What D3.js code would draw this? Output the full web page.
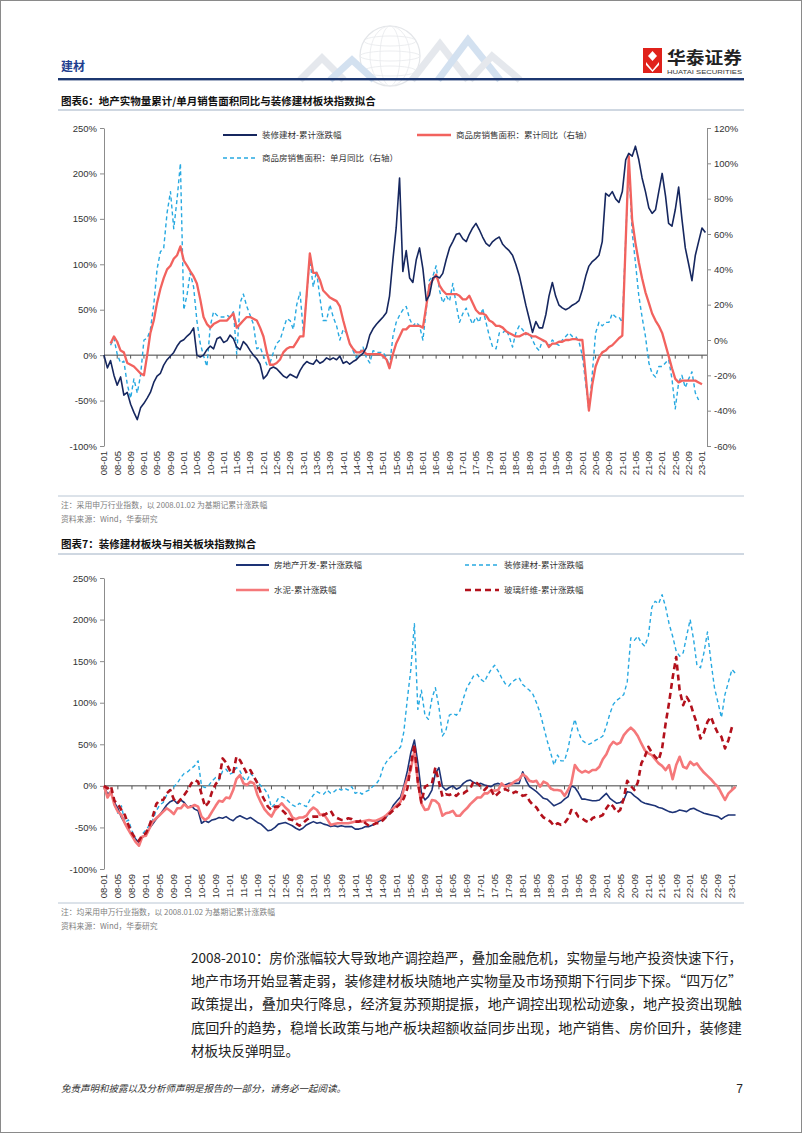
<!DOCTYPE html>
<html><head><meta charset="utf-8">
<script src="https://cdn.jsdelivr.net/npm/d3@7"></script>
<style>
body{margin:0;background:#fff;}
svg{display:block;}
</style></head><body>
<svg id="page" width="802" height="1133"></svg>
<script>
// ---------------- DATA (monthly points, index 0 = 2008-01) ----------------
const xTickLabels = ["08-01","08-05","08-09","09-01","09-05","09-09","10-01","10-05","10-09","11-01","11-05","11-09","12-01","12-05","12-09","13-01","13-05","13-09","14-01","14-05","14-09","15-01","15-05","15-09","16-01","16-05","16-09","17-01","17-05","17-09","18-01","18-05","18-09","19-01","19-05","19-09","20-01","20-05","20-09","21-01","21-05","21-09","22-01","22-05","22-09","23-01"];
const leftTicks = [-100,-50,0,50,100,150,200,250];
const rightTicks = [-60,-40,-20,0,20,40,60,80,100,120];

// 装修建材-累计涨跌幅 (%)
const decorCum = [
 0,-14,-6,-22,-33,-24,-44,-41,-54,-63,-71,-58,
 -53,-47,-41,-30,-23,-20,-11,-5,-1,3,10,15,
 17,21,24,30,0,-2,0,6,10,7,18,20,
 14,16,22,18,9,6,15,11,5,0,-4,-10,
 -26,-22,-15,-13,-15,-19,-23,-25,-21,-23,-25,-17,
 -11,-7,-9,-10,-5,-9,-7,-3,-5,-3,-5,-1,
 -9,-7,-10,-7,-5,-1,2,8,22,29,34,38,
 42,47,65,105,140,195,92,115,85,80,105,118,
 95,60,66,85,87,85,90,105,118,125,133,134,
 128,125,133,140,145,138,130,123,120,125,128,130,
 122,118,115,110,100,88,72,55,40,25,37,30,
 30,45,65,80,65,55,52,50,52,55,57,60,
 72,87,98,103,106,110,125,178,175,180,172,168,
 180,215,222,219,230,215,195,180,162,156,160,180,
 200,175,145,142,160,185,150,118,100,82,110,125,
 140,135];

// 商品房销售面积：累计同比 (%)
const salesCumYoY = [
 null,null,-2,2,-1,-6,-7,-13,-14,-15,-17,-19,
 -20,-8,4,11,21,29,35,40,42,46,48,53,
 45,42,39,36,32,23,13,9,7,9,10,11,
 11,11,13,15,7,9,11,13,13,12,11,7,
 2,-7,-14,-14,-13,-11,-7,-5,-4,-4,-1,2,
 2,null,49,38,38,34,28,26,24,23,22,19,
 11,4,-2,-5,-7,-7,-6,-8,-8,-8,-8,-8,
 -9,-11,-16,-8,-2,2,6,6,8,8,8,8,
 7,null,31,34,37,31,28,26,26,26,26,25,
 23,23,25,21,17,15,15,14,11,10,8,8,
 7,5,4,3,2,2,3,4,3,2,2,1,
 0,-1,-4,-2,-2,-1,-1,0,0,0.5,0.5,0,
 0,null,-40,-25,-15,-10,-7,-6,-4,-3,-1,1,
 2.5,null,104,68,55,44,35,27,21,15,11,8,
 4,null,-9,-16,-22,-24,-23,-23,-23,-23,-23,-24,
 -25,null];

// 商品房销售面积：单月同比 (%)
const salesMonthYoY = [
 null,null,-3,1,-8,-13,-12,-25,-33,-22,-30,-20,
 0,1,6,20,40,50,52,72,84,63,80,100,
 17,26,38,30,11,-2,-9,-15,8,16,14,13,
 13,14,13,16,-8,21,26,19,14,9,-5,-4,
 -9,-14,-13,-7,-2,0,6,12,11,6,20,27,
 4,null,46,30,39,24,11,11,20,13,8,0,
 6,4,-2,-6,-10,-7,-4,-10,-13,-6,-7,-7,
 -7,-10,-15,2,10,14,17,19,12,8,10,8,
 0,null,34,36,42,28,21,25,22,32,20,10,
 15,18,13,9,13,10,18,10,2,-4,-5,4,
 4,6,2,-4,4,8,6,3,4,0,-4,-6,
 0,-2,-3,0,-2,-3,0,2,4,2,2,-1,
 -9,null,-40,-19,4,10,8,10,10,15,13,13,
 10,null,100,61,44,25,13,2,-13,-19,-21,-15,
 -15,null,-11,-22,-39,-24,-20,-27,-22,-18,-30,-34,
 null,null];

// 房地产开发-累计涨跌幅 (%)
const realEstateCum = [
 0,-10,-7,-20,-27,-38,-45,-52,-59,-64,-68,-62,
 -58,-51,-46,-40,-35,-29,-23,-19,-17,-21,-17,-20,
 -26,-24,-28,-30,-45,-42,-44,-41,-40,-38,-39,-37,
 -40,-42,-38,-36,-38,-40,-38,-41,-44,-46,-50,-54,
 -53,-50,-46,-45,-44,-46,-48,-51,-53,-51,-47,-45,
 -43,-45,-44,-46,-47,-49,-48,-49,-48,-49,-49,-49,
 -52,-52,-51,-49,-49,-47,-45,-42,-41,-37,-31,-23,
 -18,-13,0,18,40,55,28,-8,-17,-13,-5,15,
 22,-1,-5,-2,0,-4,-2,3,6,7,4,2,
 3,1,0,-1,2,3,1,1,3,3,3,3,
 17,6,-1,-4,-7,-11,-15,-16,-20,-24,-22,-20,
 -16,-13,0,-2,-8,-16,-16,-17,-18,-18,-17,-13,
 -9,-15,-18,-21,-20,-17,-7,-8,-12,-15,-19,-21,
 -22,-23,-24,-26,-27,-29,-31,-32,-31,-29,-30,-31,
 -28,-27,-29,-31,-33,-34,-35,-36,-37,-40,-37,-35,
 -35,-35];

// 水泥-累计涨跌幅 (%)
const cementCum = [
 0,-14,-7,-23,-31,-35,-45,-53,-60,-67,-72,-61,
 -60,-51,-43,-39,-35,-31,-27,-30,-34,-27,-27,-22,
 -26,-25,-23,-25,-37,-41,-38,-31,-24,-18,-19,-14,
 -15,-5,8,13,3,1,5,3,-11,-20,-28,-33,
 -37,-29,-25,-21,-26,-30,-38,-40,-38,-38,-36,-30,
 -26,-29,-35,-34,-40,-47,-46,-45,-45,-45,-45,-44,
 -43,-43,-43,-42,-41,-42,-42,-40,-38,-35,-31,-27,
 -23,-19,-4,9,20,42,5,-21,-29,-28,-17,-18,
 -22,-36,-33,-32,-30,-36,-36,-31,-27,-22,-18,-14,
 -14,-9,-9,-5,-6,-5,3,-1,0,3,6,8,
 14,11,6,5,6,-1,5,3,-3,-5,-5,-6,
 -12,-5,3,25,19,16,18,16,19,19,23,32,
 38,48,53,50,52,61,66,70,66,60,51,43,
 39,37,32,27,24,19,25,8,25,35,23,21,
 29,25,27,21,16,12,8,3,-1,-9,-17,-9,
 -5,-1];

// 玻璃纤维-累计涨跌幅 (%)
const glassFiberCum = [
 0,-3,0,-18,-22,-29,-35,-47,-57,-63,-66,-59,
 -57,-47,-37,-22,-17,-17,-9,-5,-16,-21,-16,-11,
 -5,3,7,5,-10,-25,-20,-7,2,7,33,28,
 19,15,35,31,23,15,19,11,3,-9,-17,-25,
 -29,-25,-25,-29,-33,-40,-41,-45,-48,-45,-41,-38,
 -37,-37,-37,-35,-33,-30,-37,-39,-41,-41,-39,-40,
 -43,-43,-41,-45,-48,-47,-45,-45,-41,-37,-33,-29,
 -25,-21,-15,-3,25,50,5,-20,-1,1,3,22,
 5,-13,-10,-11,-9,-12,-8,-9,-6,-3,6,3,
 -1,-5,-1,-5,-13,-9,-5,-4,-6,-9,-7,-9,
 -12,-11,-18,-23,-26,-33,-38,-40,-43,-48,-45,-47,
 -45,-39,-29,-30,-37,-39,-42,-44,-39,-37,-37,-35,
 -27,-21,-25,-32,-29,-15,6,0,-5,4,27,35,
 47,40,35,31,45,75,100,130,155,115,97,107,
 100,86,75,57,64,77,83,72,63,59,45,55,
 71,72];

// ---------------- DRAWING ----------------
const CJK = "'Noto Sans CJK SC','Noto Sans',sans-serif";
const LAT = "'Liberation Sans',Arial,sans-serif";
const svg = d3.select("#page");

const toPts = arr => arr.map((v,i)=>({d:new Date(2008,i,1), v})).filter(p=>p.v!==null);
const labelDate = s => new Date(2000+ +s.slice(0,2), +s.slice(3)-1, 1);

// page frame
svg.append("rect").attr("x",0.5).attr("y",0.5).attr("width",801).attr("height",1132)
  .attr("fill","none").attr("stroke","#8a8a8a");

// ---- header watermark (globe + chevrons) ----
const wm = svg.append("g").attr("opacity",0.45);
wm.append("circle").attr("cx",390).attr("cy",56).attr("r",30).attr("fill","none").attr("stroke","#c3c8cf").attr("stroke-width",1.2);
[10,20].forEach(rx=>wm.append("ellipse").attr("cx",390).attr("cy",56).attr("rx",rx).attr("ry",30).attr("fill","none").attr("stroke","#cdd1d7").attr("stroke-width",0.8));
[-15,0,15].forEach(dy=>wm.append("ellipse").attr("cx",390).attr("cy",56+dy).attr("rx",Math.sqrt(900-dy*dy)).attr("ry",5).attr("fill","none").attr("stroke","#cdd1d7").attr("stroke-width",0.8));
const chev = [[[300,80],[322,58],[344,80]],[[330,80],[352,60],[374,80]],[[412,80],[440,44],[468,80]],[[438,80],[468,40],[500,80]],[[470,80],[492,56],[520,80]]];
chev.forEach((c,i)=>wm.append("polyline").attr("points",c.map(p=>p.join(",")).join(" "))
  .attr("fill","none").attr("stroke",i%2?"#9fbde0":"#c7ced8").attr("stroke-width",7).attr("stroke-linejoin","miter"));

// header text & line
svg.append("text").attr("x",61).attr("y",71).text("建材")
  .attr("font-family",CJK).attr("font-weight","bold").attr("font-size",12).attr("fill","#1f3f8f");
svg.append("rect").attr("x",58).attr("y",78).attr("width",686).attr("height",2.4).attr("fill","#1c3770");

// logo
const lg = svg.append("g");
lg.append("rect").attr("x",643).attr("y",48).attr("width",19).attr("height",25).attr("fill","#e0211b");
lg.append("path").attr("d","M652.5,51 L657,56 L652.5,61 L648,56 Z").attr("fill","#fff");
lg.append("path").attr("d","M646,62 L652.5,70 L659,62 L659,65 L652.5,72 L646,65 Z").attr("fill","#fff");
lg.append("text").attr("x",667).attr("y",63.5).text("华泰证券")
  .attr("font-family",CJK).attr("font-weight","bold").attr("font-size",16.5).attr("fill","#222")
  .attr("textLength",75).attr("lengthAdjust","spacingAndGlyphs");
lg.append("text").attr("x",667).attr("y",73.5).text("HUATAI SECURITIES")
  .attr("font-family",LAT).attr("font-size",6).attr("fill","#333")
  .attr("textLength",75).attr("lengthAdjust","spacingAndGlyphs");

// ---- helpers ----
function titleBlock(y, txt, lineY){
  svg.append("text").attr("x",61).attr("y",y).text(txt)
    .attr("font-family",CJK).attr("font-weight","bold").attr("font-size",10.5).attr("fill","#111");
  svg.append("line").attr("x1",58).attr("x2",744).attr("y1",lineY).attr("y2",lineY)
    .attr("stroke","#9fb0c4").attr("stroke-width",1);
}
function notes(lineY, t1, t2){
  svg.append("line").attr("x1",58).attr("x2",744).attr("y1",lineY).attr("y2",lineY)
    .attr("stroke","#b9c6d4").attr("stroke-width",1);
  svg.append("text").attr("x",61).attr("y",lineY+12).text(t1)
    .attr("font-family",CJK).attr("font-size",7.8).attr("fill","#808080");
  svg.append("text").attr("x",61).attr("y",lineY+26).text(t2)
    .attr("font-family",CJK).attr("font-size",7.8).attr("fill","#808080");
}
function styleAxis(g){
  g.select(".domain").attr("stroke","#8c8c8c");
  g.selectAll(".tick line").attr("stroke","#8c8c8c");
  g.selectAll(".tick text").attr("font-family",LAT).attr("font-size",9.5).attr("fill","#333");
}
function xLabels(x, zeroY, labY){
  xTickLabels.forEach(s=>{
    const xx = x(labelDate(s));
    svg.append("line").attr("x1",xx).attr("x2",xx).attr("y1",zeroY).attr("y2",zeroY+3.5).attr("stroke","#555");
    svg.append("text").attr("transform",`translate(${xx},${labY}) rotate(-90)`)
      .attr("text-anchor","end").attr("dy","0.35em").text(s)
      .attr("font-family",LAT).attr("font-size",9.5).attr("fill","#333");
  });
}
function legendItem(x1,x2,y,color,width,dash,label){
  svg.append("line").attr("x1",x1).attr("x2",x2).attr("y1",y).attr("y2",y)
    .attr("stroke",color).attr("stroke-width",width).attr("stroke-dasharray",dash||null);
  svg.append("text").attr("x",x2+5).attr("y",y).attr("dy","0.35em").text(label)
    .attr("font-family",CJK).attr("font-size",8.5).attr("fill","#333");
}
function drawLine(arr,x,y,color,width,dash){
  svg.append("path").datum(toPts(arr))
    .attr("d",d3.line().x(p=>x(p.d)).y(p=>y(p.v)))
    .attr("fill","none").attr("stroke",color).attr("stroke-width",width)
    .attr("stroke-linejoin","round").attr("stroke-dasharray",dash||null);
}

const NAVY="#16275f", RED="#f2625e", LBLUE="#27a9e1", CEMENT="#f5787a", GF="#b3111c", RE="#1d3376";
const d0 = new Date(2008,0,1), d1 = new Date(2023,0,1);

// ---------------- CHART 6 ----------------
titleBlock(104.5,"图表6：地产实物量累计/单月销售面积同比与装修建材板块指数拟合",110);
const x1 = d3.scaleTime().domain([d0,d1]).range([104,702]);
const yL = d3.scaleLinear().domain([-100,250]).range([446,128]);
const yR = d3.scaleLinear().domain([-60,120]).range([446,128]);

styleAxis(svg.append("g").attr("transform","translate(104,0)")
  .call(d3.axisLeft(yL).tickValues(leftTicks).tickFormat(d=>d+"%").tickSize(4).tickSizeOuter(0)));
styleAxis(svg.append("g").attr("transform","translate(707,0)")
  .call(d3.axisRight(yR).tickValues(rightTicks).tickFormat(d=>d+"%").tickSize(4).tickSizeOuter(0)));

svg.append("line").attr("x1",104).attr("x2",707).attr("y1",yL(0)).attr("y2",yL(0)).attr("stroke","#404040");
xLabels(x1, yL(0), 451);

drawLine(salesMonthYoY,x1,yR,LBLUE,1.4,"4,3");
drawLine(salesCumYoY,x1,yR,RED,2.3);
drawLine(decorCum,x1,yL,NAVY,1.6);

legendItem(223,257,135,NAVY,2,null,"装修建材-累计涨跌幅");
legendItem(417,451,135,RED,2.5,null,"商品房销售面积：累计同比（右轴）");
legendItem(223,257,158,LBLUE,1.6,"4,3","商品房销售面积：单月同比（右轴）");

notes(496,"注：采用申万行业指数，以 2008.01.02 为基期记累计涨跌幅","资料来源：Wind，华泰研究");

// ---------------- CHART 7 ----------------
titleBlock(548,"图表7：装修建材板块与相关板块指数拟合",554);
const x2 = d3.scaleTime().domain([d0,d1]).range([104,732]);
const y2 = d3.scaleLinear().domain([-100,250]).range([869,578]);
styleAxis(svg.append("g").attr("transform","translate(104,0)")
  .call(d3.axisLeft(y2).tickValues(leftTicks).tickFormat(d=>d+"%").tickSize(4).tickSizeOuter(0)));
svg.append("line").attr("x1",104).attr("x2",737).attr("y1",y2(0)).attr("y2",y2(0)).attr("stroke","#404040");
xLabels(x2, y2(0), 874);

drawLine(decorCum,x2,y2,LBLUE,1.4,"4,3");
drawLine(realEstateCum,x2,y2,RE,1.6);
drawLine(cementCum,x2,y2,CEMENT,2.6);
drawLine(glassFiberCum,x2,y2,GF,2.6,"6,4");

legendItem(236,269,565,RE,2,null,"房地产开发-累计涨跌幅");
legendItem(465,499,565,LBLUE,1.6,"4,3","装修建材-累计涨跌幅");
legendItem(236,269,590,CEMENT,2.6,null,"水泥-累计涨跌幅");
legendItem(465,499,590,GF,2.6,"6,4","玻璃纤维-累计涨跌幅");

notes(903,"注：均采用申万行业指数，以 2008.01.02 为基期记累计涨跌幅","资料来源：Wind，华泰研究");

// ---------------- PARAGRAPH ----------------
const para = [
 "2008-2010：房价涨幅较大导致地产调控趋严，叠加金融危机，实物量与地产投资快速下行，",
 "地产市场开始显著走弱，装修建材板块随地产实物量及市场预期下行同步下探。“四万亿”",
 "政策提出，叠加央行降息，经济复苏预期提振，地产调控出现松动迹象，地产投资出现触",
 "底回升的趋势，稳增长政策与地产板块超额收益同步出现，地产销售、房价回升，装修建",
 "材板块反弹明显。"];
para.forEach((t,i)=>{
  const tx = svg.append("text").attr("x",191).attr("y",963+i*23.2).text(t)
    .attr("font-family",CJK).attr("font-size",13.5).attr("fill","#222");
  if(i<4) tx.attr("textLength",551).attr("lengthAdjust","spacingAndGlyphs");
});

// ---------------- FOOTER ----------------
svg.append("text").attr("x",61).attr("y",1092).text("免责声明和披露以及分析师声明是报告的一部分，请务必一起阅读。")
  .attr("font-family",CJK).attr("font-size",9.5).attr("font-style","italic").attr("fill","#333");
svg.append("text").attr("x",743).attr("y",1093).attr("text-anchor","end").text("7")
  .attr("font-family",LAT).attr("font-size",12).attr("fill","#222");
</script>
</body></html>
